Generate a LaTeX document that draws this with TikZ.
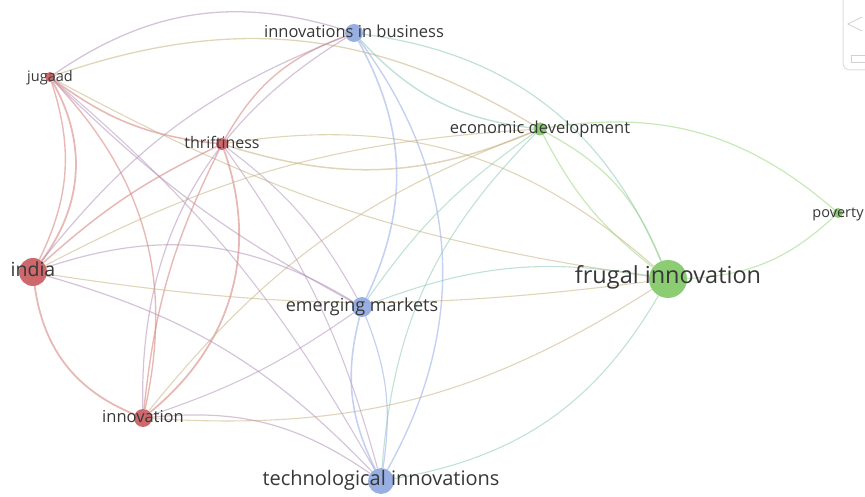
\documentclass[tikz,border=0pt]{standalone}
\usepackage{fontspec}
\setmainfont{Open Sans}
\usetikzlibrary{backgrounds}

\definecolor{redN}{RGB}{200,88,92}
\definecolor{blueN}{RGB}{140,166,222}
\definecolor{greenN}{RGB}{128,200,100}
\definecolor{txt}{RGB}{55,55,55}
\definecolor{rr}{RGB}{212,128,122}
\definecolor{bb}{RGB}{150,172,232}
\definecolor{gg}{RGB}{150,216,124}
\definecolor{rb}{RGB}{178,146,186}
\definecolor{rg}{RGB}{198,178,128}
\definecolor{bg}{RGB}{140,200,178}

\tikzset{
  kw/.style={circle, inner sep=0pt, fill opacity=0.9, draw=none},
  kwlabel/.style={text=txt, inner sep=0pt, text height=1em, text depth=0.06em},
  link/.style={line width=#1, opacity=0.55}
}

\begin{document}
\begin{tikzpicture}[x=1pt,y=-1pt]

\useasboundingbox (0,0) rectangle (865,497);

%draw the keyword circles
\node [kw, fill=blueN, minimum size=18] (ib) at (354,33) {};
\node [kw, fill=redN, minimum size=10] (jg) at (50,77) {};
\node [kw, fill=redN, minimum size=12] (th) at (222,144) {};
\node [kw, fill=greenN, minimum size=13] (ed) at (540,129) {};
\node [kw, fill=greenN, minimum size=10] (pv) at (838,213) {};
\node [kw, fill=redN, minimum size=28] (in) at (33,272) {};
\node [kw, fill=greenN, minimum size=38] (fi) at (668,279) {};
\node [kw, fill=blueN, minimum size=20] (em) at (362,307) {};
\node [kw, fill=redN, minimum size=18] (iv) at (143,418) {};
\node [kw, fill=blueN, minimum size=26] (ti) at (381,481) {};

%draw the links behind them
\begin{scope}[on background layer]
\foreach \a/\b/\bnd/\col/\w in {
  jg/ib/26/rb/1.3, jg/ed/25/rg/1.3, jg/th/-15/rr/1.6, jg/in/33/rr/1.8,
  jg/in/22/rr/1.4, jg/iv/28/rr/1.4, jg/em/-8/rb/1.2, jg/fi/-10/rg/1.1,
  jg/ti/10/rb/1.1, th/ib/20/rr/1.4, th/ed/-20/rg/1.5, th/fi/25/rg/1.1,
  th/in/-8/rr/1.5, th/iv/35/rr/1.8, th/iv/-10/rr/1.4, th/em/12/rb/1.1,
  th/ti/10/rb/1.1, ib/ed/-20/bg/1.4, ib/fi/30/bg/1.2, ib/em/27/bb/1.6,
  ib/ti/33/bb/1.4, ib/in/-15/rb/1.2, ib/iv/-30/rb/1.2, ed/pv/25/gg/1.2,
  ed/fi/20/gg/1.2, ed/fi/-12/gg/1.2, ed/em/-10/bg/1.1, ed/ti/-20/bg/1.1,
  ed/in/-12/rg/1.1, iv/ed/15/rg/1.1, fi/pv/-20/gg/1.2, em/fi/15/bg/1.1,
  ti/fi/-25/bg/1.1, in/fi/-8/rg/1.1, iv/fi/-18/rg/1.1, em/ti/-20/bb/1.6,
  em/ti/15/bb/1.2, in/em/25/rb/1.2, iv/em/-8/rb/1.1, in/ti/15/rb/1.2,
  iv/ti/20/rb/1.2, in/iv/-30/rr/1.8}
  \draw [link=\w, draw=\col] (\a) to[bend left=\bnd] (\b);
\end{scope}

%keyword labels
\node [kwlabel, font=\fontsize{16.5}{18}\selectfont] (ib-l) at (ib) {innovations in business};
\node [kwlabel, font=\fontsize{14.5}{16}\selectfont] (jg-l) at (jg) {jugaad};
\node [kwlabel, font=\fontsize{16}{18}\selectfont] (th-l) at (th) {thriftiness};
\node [kwlabel, font=\fontsize{16.5}{18}\selectfont] (ed-l) at (ed) {economic development};
\node [kwlabel, font=\fontsize{14.5}{16}\selectfont] (pv-l) at (pv) {poverty};
\node [kwlabel, font=\fontsize{19.5}{22}\selectfont] (in-l) at (in) {india};
\node [kwlabel, font=\fontsize{23.5}{26}\selectfont] (fi-l) at (fi) {frugal innovation};
\node [kwlabel, font=\fontsize{18}{20}\selectfont] (em-l) at (em) {emerging markets};
\node [kwlabel, font=\fontsize{16.5}{18}\selectfont] (iv-l) at (iv) {innovation};
\node [kwlabel, font=\fontsize{20}{22}\selectfont] (ti-l) at (ti) {technological innovations};

%zoom control in the corner
\draw [black!13, line width=1pt, rounded corners=7pt] (843,-5) -- (843,70) -- (875,70);
\draw [black!18, line width=0.8pt] (862,17) -- (848,24) -- (862,31);
\draw [black!18, line width=0.8pt] (851,55) rectangle (868,62);

\end{tikzpicture}
\end{document}
